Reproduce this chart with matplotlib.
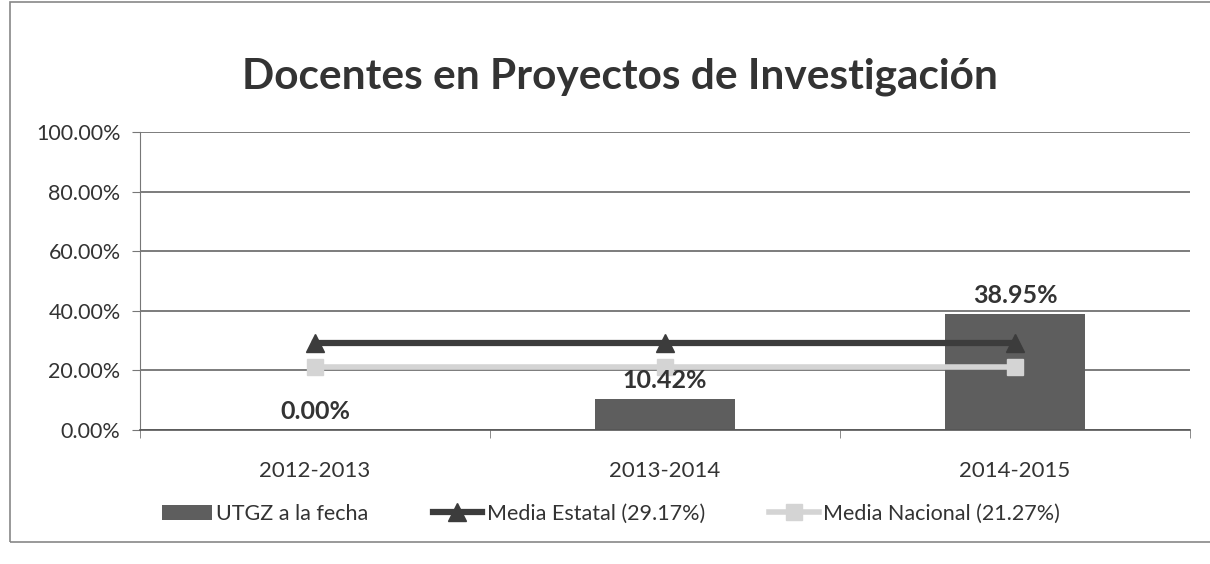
import numpy as np
import matplotlib
matplotlib.use('Agg')
from matplotlib import pyplot as plt
from matplotlib.patches import Rectangle
from matplotlib.ticker import FuncFormatter, FixedLocator

plt.rcParams['font.family'] = ['Lato', 'DejaVu Sans']

# Periodos y porcentajes de docentes en proyectos
periodos = ['2012-2013', '2013-2014', '2014-2015']
utgz = [0.00, 10.42, 38.95]
media_estatal = [29.17, 29.17, 29.17]
media_nacional = [21.27, 21.27, 21.27]

fig = plt.figure(figsize=(12.1, 5.64), dpi=100)
ax = fig.add_axes([140 / 1210, 1 - 430 / 564, 1050 / 1210, 298 / 564])

x = np.arange(len(periodos))
ax.bar(x, utgz, width=0.4, color='#5e5e5e', zorder=2, label='UTGZ a la fecha')
ax.plot(x, media_estatal, color='#3c3c3c', lw=4.5, marker='^', ms=13,
        zorder=3, label='Media Estatal (29.17%)')
ax.plot(x, media_nacional, color='#d4d4d4', lw=4, marker='s', ms=12,
        zorder=3, label='Media Nacional (21.27%)')

# etiquetas de valor sobre cada barra
for xi, v in zip(x, utgz):
    ax.annotate('%.2f%%' % v, (xi, v), xytext=(0, 5), textcoords='offset points',
                ha='center', va='bottom', fontsize=18, fontweight='bold', color='#333333',
                zorder=4)

ax.set_xlim(-0.5, 2.5)
ax.set_ylim(0, 100)
ax.set_yticks(np.arange(0, 101, 20))
ax.yaxis.set_major_formatter(FuncFormatter(lambda v, p: '%.2f%%' % v))
ax.set_xticks(x)
ax.set_xticklabels(periodos)
ax.xaxis.set_minor_locator(FixedLocator([-0.5, 0.5, 1.5, 2.5]))
ax.tick_params(axis='x', which='major', length=0, pad=22, labelsize=16, colors='#333333')
ax.tick_params(axis='x', which='minor', length=6, color='#777777')
ax.tick_params(axis='y', length=6, pad=8, labelsize=15.5, colors='#333333')
ax.tick_params(axis='y', color='#777777')

ax.grid(axis='y', color='#666666', lw=1.2, zorder=0)
for s in ['top', 'right']:
    ax.spines[s].set_visible(False)
ax.spines['left'].set_color('#777777')
ax.spines['bottom'].set_color('#555555')
ax.spines['bottom'].set_linewidth(1.2)

fig.text(0.512, 1 - 77 / 564, 'Docentes en Proyectos de Investigación', ha='center',
         va='center', fontsize=30.5, fontweight='bold', color='#333333')

handles, labels = ax.get_legend_handles_labels()
order = [labels.index('UTGZ a la fecha'), labels.index('Media Estatal (29.17%)'),
         labels.index('Media Nacional (21.27%)')]
fig.legend([handles[i] for i in order], [labels[i] for i in order],
           loc='center', bbox_to_anchor=(0.505, 1 - 514 / 564), ncol=3, frameon=False,
           fontsize=15.5, handlelength=2.3, columnspacing=3.0, handletextpad=0.2,
           labelcolor='#333333')

# marco exterior del gráfico
fig.add_artist(Rectangle((10 / 1210, 1 - 542 / 564), 1.2, 540 / 564,
                         transform=fig.transFigure, fill=False,
                         edgecolor='#888888', lw=1.2))

fig.savefig('out.png', dpi=100)
